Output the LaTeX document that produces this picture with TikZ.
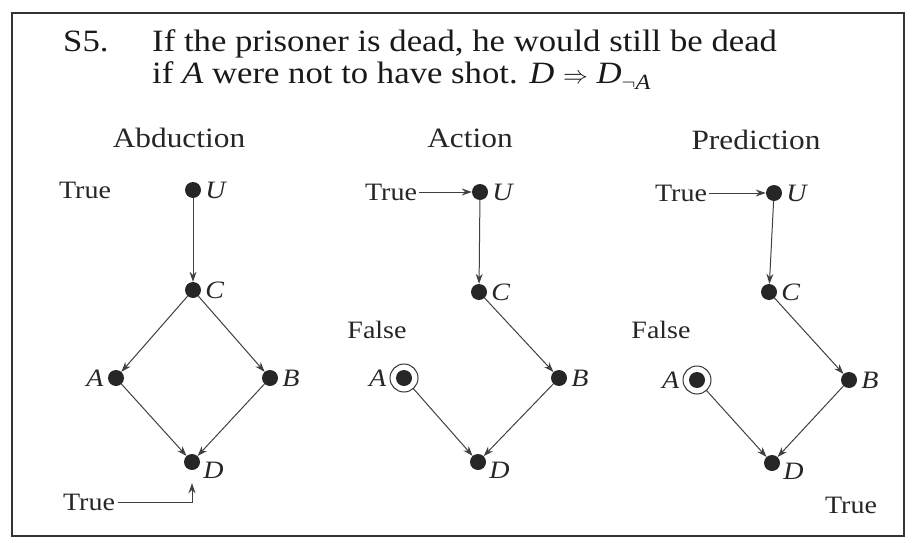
\documentclass[tikz,border=0pt]{standalone}
\usepackage{fontspec}
\setmainfont{Liberation Serif}[FakeStretch=1.12]
\usetikzlibrary{arrows.meta}
\begin{document}
\begin{tikzpicture}[x=1pt,y=-1pt,
  dot/.style={circle,fill=black!85,inner sep=0pt,minimum size=16pt},
  ring/.style={circle,draw=black!80,line width=1pt,inner sep=0pt,minimum size=28pt},
  lab/.style={font=\fontsize{25}{28}\selectfont\itshape,inner sep=0pt,text=black!85},
  txt/.style={font=\fontsize{25}{30}\selectfont,inner sep=0pt,text=black!85},
  ttl/.style={font=\fontsize{28}{32}\selectfont,inner sep=0pt,text=black!85},
  hdr/.style={font=\fontsize{31}{33}\selectfont,inner sep=0pt,anchor=base west,text=black!90},
  arr/.style={-{Stealth[length=10pt,width=7pt]},draw=black!75,line width=1pt}
]
\useasboundingbox (0,0) rectangle (913,543);
\draw[line width=1.2pt,black!80] (12,13) rectangle (904,536);

% header
\node[hdr] (s5) at (63,52) {S5.};
\node[hdr] (l1) at (152,52) {If the prisoner is dead, he would still be dead};
\node[hdr] (l2) at (152,84) {if \textit{A} were not to have shot. \textit{D} $\Rightarrow$ \textit{D}\textsubscript{$\neg$\textit{A}}};

% titles
\node[ttl] (t1) at (179,138) {Abduction};
\node[ttl] (t2) at (470,138) {Action};
\node[ttl] (t3) at (756,140) {Prediction};

% ---------- Abduction ----------
\node[dot] (U1) at (193,190) {};
\node[dot] (C1) at (193,290) {};
\node[dot] (A1) at (116,378) {};
\node[dot] (B1) at (270,378) {};
\node[dot] (D1) at (192,462) {};
\node[lab,anchor=west] (lU1) at ([xshift=4pt]U1.east) {U};
\node[lab,anchor=west] (lC1) at ([xshift=4pt]C1.east) {C};
\node[lab,anchor=east] (lA1) at ([xshift=-4pt]A1.west) {A};
\node[lab,anchor=west] (lB1) at ([xshift=4pt]B1.east) {B};
\node[lab,anchor=west] (lD1) at ([xshift=3pt,yshift=-8pt]D1.east) {D};
\node[txt] (tu1) at (85,190) {True};
\node[txt] (td1) at (89,502) {True};
\draw[arr] (U1) -- (C1);
\draw[arr] (C1) -- (A1);
\draw[arr] (C1) -- (B1);
\draw[arr] (A1) -- (D1);
\draw[arr] (B1) -- (D1);
\draw[arr,shorten >=13pt] ([xshift=3pt]td1.east) -| (D1);

% ---------- Action ----------
\node[dot] (U2) at (480,192) {};
\node[dot] (C2) at (479,292) {};
\node[dot] (A2) at (404,378) {};
\node[ring] (R2) at (404,378) {};
\node[dot] (B2) at (559,378) {};
\node[dot] (D2) at (478,462) {};
\node[lab,anchor=west] (lU2) at ([xshift=4pt]U2.east) {U};
\node[lab,anchor=west] (lC2) at ([xshift=4pt]C2.east) {C};
\node[lab,anchor=east] (lA2) at ([xshift=-3pt]R2.west) {A};
\node[lab,anchor=west] (lB2) at ([xshift=4pt]B2.east) {B};
\node[lab,anchor=west] (lD2) at ([xshift=3pt,yshift=-8pt]D2.east) {D};
\node[txt] (tu2) at (391,192) {True};
\node[txt] (fa2) at (377,330) {False};
\draw[arr] ([xshift=2pt]tu2.east) -- (U2);
\draw[arr] (U2) -- (C2);
\draw[arr] (C2) -- (B2);
\draw[arr] (R2) -- (D2);
\draw[arr] (B2) -- (D2);

% ---------- Prediction ----------
\node[dot] (U3) at (774,193) {};
\node[dot] (C3) at (769,292) {};
\node[dot] (A3) at (697,380) {};
\node[ring] (R3) at (697,380) {};
\node[dot] (B3) at (849,380) {};
\node[dot] (D3) at (772,463) {};
\node[lab,anchor=west] (lU3) at ([xshift=4pt]U3.east) {U};
\node[lab,anchor=west] (lC3) at ([xshift=4pt]C3.east) {C};
\node[lab,anchor=east] (lA3) at ([xshift=-3pt]R3.west) {A};
\node[lab,anchor=west] (lB3) at ([xshift=4pt]B3.east) {B};
\node[lab,anchor=west] (lD3) at ([xshift=3pt,yshift=-8pt]D3.east) {D};
\node[txt] (tu3) at (681,193) {True};
\node[txt] (fa3) at (661,330) {False};
\node[txt] (tb3) at (851,505) {True};
\draw[arr] ([xshift=2pt]tu3.east) -- (U3);
\draw[arr] (U3) -- (C3);
\draw[arr] (C3) -- (B3);
\draw[arr] (R3) -- (D3);
\draw[arr] (B3) -- (D3);
\end{tikzpicture}
\end{document}
